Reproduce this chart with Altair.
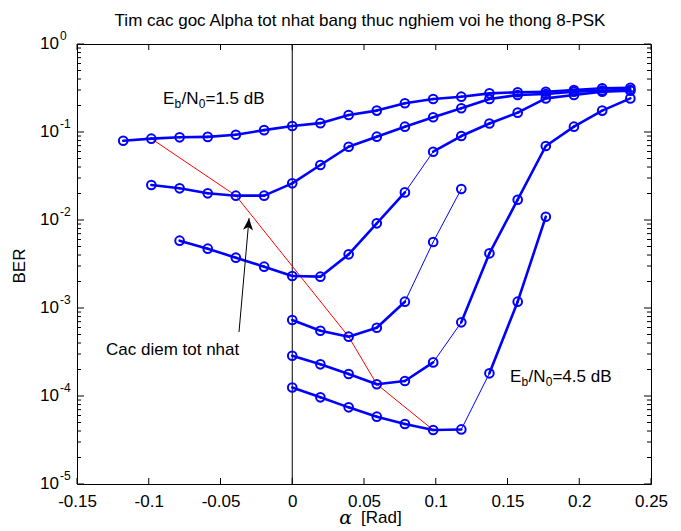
import altair as alt
import pandas as pd

FONT = "Liberation Sans, Arial, sans-serif"
BLUE = "#0000ff"

# alpha grid (k * pi/160)
alpha = [-0.1178, -0.0982, -0.0785, -0.0589, -0.0393, -0.0196, 0.0, 0.0196, 0.0393,
         0.0589, 0.0785, 0.0982, 0.1178, 0.1374, 0.1571, 0.1767, 0.1963, 0.2160, 0.2356]

# curves: BER values, start index into alpha, segment widths (T thick / t thin)
ber_1 = [0.0796, 0.084, 0.087, 0.088, 0.093, 0.105, 0.117, 0.126, 0.156, 0.175,
         0.212, 0.237, 0.252, 0.275, 0.283, 0.287, 0.300, 0.314, 0.318]
start_1 = 0
seg_1 = "TTTTTTTTTTTTTTTTTT"

ber_2 = [0.025, 0.0229, 0.0201, 0.0189, 0.0189, 0.0261, 0.0422, 0.068, 0.0885,
         0.115, 0.147, 0.186, 0.237, 0.263, 0.270, 0.287, 0.295, 0.300]
start_2 = 1
seg_2 = "TTTTTTTTTTTTTTTTT"

ber_3 = [0.00582, 0.00472, 0.00373, 0.00295, 0.00231, 0.00227, 0.00407, 0.00917,
         0.0206, 0.0597, 0.090, 0.125, 0.166, 0.241, 0.263, 0.287, 0.295]
start_3 = 2
seg_3 = "TTTTTTTTtTTTTTTT"

ber_4 = [7.3e-4, 5.52e-4, 4.72e-4, 5.97e-4, 1.18e-3, 5.62e-3, 0.0225]
start_4 = 6
seg_4 = "TTTTtt"

ber_5 = [2.87e-4, 2.29e-4, 1.78e-4, 1.36e-4, 1.48e-4, 2.41e-4, 6.87e-4, 4.18e-3,
         0.0170, 0.0693, 0.115, 0.175, 0.241]
start_5 = 6
seg_5 = "TTTTTtTTTTTT"

ber_6 = [1.25e-4, 9.66e-5, 7.43e-5, 5.82e-5, 4.81e-5, 4.11e-5, 4.17e-5, 1.81e-4,
         1.18e-3, 0.0109]
start_6 = 6
seg_6 = "TTTTTTtTT"

# red line through best points
best_x = [-0.0982, -0.0393, 0.0393, 0.0589, 0.0982]
best_y = [0.084, 0.0189, 4.72e-4, 1.36e-4, 4.11e-5]

# arrow annotation
arrow_x = [-0.0371, -0.0301]
arrow_y = [5.33e-4, 0.0105]
note_x = [-0.1298]
note_y = [3.33e-4]
note_text = ["Cac diem tot nhat"]

# Eb/N0 labels
eb_x = [-0.0901, 0.1517]
eb_y = [0.24, 1.66e-4]
eb_tail = ["=1.5 dB", "=4.5 dB"]

x_ticks = [-0.15, -0.1, -0.05, 0, 0.05, 0.1, 0.15, 0.2, 0.25]
y_exps = [0, -1, -2, -3, -4, -5]

title_text = "Tim cac goc Alpha tot nhat bang thuc nghiem voi he thong 8-PSK"

W, H = 574, 440
THICK, THIN = 2.6, 1.0

# ---------- build tables ----------
curves = [(ber_1, start_1, seg_1), (ber_2, start_2, seg_2), (ber_3, start_3, seg_3),
          (ber_4, start_4, seg_4), (ber_5, start_5, seg_5), (ber_6, start_6, seg_6)]
seg_rows, pt_rows = [], []
for ci, (ber, st, segs) in enumerate(curves):
    for j, v in enumerate(ber):
        pt_rows.append({"c": ci, "x": alpha[st + j], "y": v})
    for j in range(len(ber) - 1):
        w = THICK if segs[j] == "T" else THIN
        for m in (j, j + 1):
            seg_rows.append({"seg": f"{ci}-{j}", "x": alpha[st + m], "y": ber[m], "w": w})
seg_df = pd.DataFrame(seg_rows)
pt_df = pd.DataFrame(pt_rows)
best_df = pd.DataFrame({"x": best_x, "y": best_y})
arrow_df = pd.DataFrame({"x": arrow_x, "y": arrow_y})
head_df = pd.DataFrame({"x": arrow_x[-1:], "y": arrow_y[-1:]})
note_df = pd.DataFrame({"x": note_x, "y": note_y, "t": note_text})
eb_df = pd.DataFrame({"x": eb_x, "y": eb_y, "t": eb_tail})
xt_df = pd.DataFrame({"x": x_ticks})
ymaj_df = pd.DataFrame({"y": [10.0 ** e for e in y_exps], "e": [str(e) for e in y_exps]})
ymin_df = pd.DataFrame({"y": [m * 10.0 ** e for e in y_exps[1:] for m in range(2, 10)]})
zero_df = pd.DataFrame({"x": [0.0]})
title_df = pd.DataFrame({"t": [title_text]})
xl_df = pd.DataFrame({"t": ["[Rad]"]})
yl_df = pd.DataFrame({"t": ["BER"]})

xscale = alt.Scale(domain=[-0.15, 0.25], nice=False, zero=False)
yscale = alt.Scale(type="log", domain=[1e-5, 1], nice=False)
xaxis = alt.Axis(values=x_ticks, labelExpr="'' + datum.value", ticks=False, domain=False,
                 grid=False, labelFont=FONT, labelFontSize=17, labelColor="black",
                 labelPadding=9, title=None, labelFlush=False)
X = alt.X("x:Q", scale=xscale, axis=xaxis)
Y = alt.Y("y:Q", scale=yscale, axis=None)

zero_rule = alt.Chart(zero_df).mark_rule(color="black", strokeWidth=1).encode(
    x=X, y=alt.value(0), y2=alt.value(H))
red = alt.Chart(best_df).mark_line(color="#ff0000", strokeWidth=1).encode(x=X, y=Y)
lines = alt.Chart(seg_df).mark_line(color=BLUE, strokeCap="round", strokeJoin="round").encode(
    x=X, y=Y, detail="seg:N", strokeWidth=alt.StrokeWidth("w:Q", scale=None))
points = alt.Chart(pt_df).mark_point(shape="circle", filled=False, size=75, strokeWidth=2,
                                     color=BLUE, opacity=1).encode(x=X, y=Y)

xt_bot = alt.Chart(xt_df).mark_rule(color="black").encode(x=X, y=alt.value(H), y2=alt.value(H - 6))
xt_top = alt.Chart(xt_df).mark_rule(color="black").encode(x=X, y=alt.value(0), y2=alt.value(6))
ymaj_l = alt.Chart(ymaj_df).mark_rule(color="black").encode(y=Y, x=alt.value(0), x2=alt.value(7))
ymaj_r = alt.Chart(ymaj_df).mark_rule(color="black").encode(y=Y, x=alt.value(W), x2=alt.value(W - 7))
ymin_l = alt.Chart(ymin_df).mark_rule(color="black").encode(y=Y, x=alt.value(0), x2=alt.value(4))
ymin_r = alt.Chart(ymin_df).mark_rule(color="black").encode(y=Y, x=alt.value(W), x2=alt.value(W - 4))

ylab_10 = alt.Chart(ymaj_df).mark_text(text="10", align="right", baseline="middle", font=FONT,
                                       fontSize=17, color="black").encode(y=Y, x=alt.value(-18))
ylab_e = alt.Chart(ymaj_df).mark_text(align="left", baseline="middle", font=FONT, fontSize=12,
                                      dy=-8, color="black").encode(y=Y, x=alt.value(-17), text="e:N")

arrow_line = alt.Chart(arrow_df).mark_line(color="black", strokeWidth=1).encode(x=X, y=Y)
arrow_head = alt.Chart(head_df).mark_point(shape="M0,0 L1,2.4 L0,1.8 L-1,2.4 Z", filled=True,
                                           size=100, color="black", opacity=1, angle=5).encode(x=X, y=Y)
note = alt.Chart(note_df).mark_text(align="left", baseline="middle", font=FONT, fontSize=17,
                                    color="black").encode(x=X, y=Y, text="t:N")

def eb_part(txt, dx, dy, fs):
    return alt.Chart(eb_df).mark_text(text=txt, align="left", baseline="middle", font=FONT,
                                      fontSize=fs, dx=dx, dy=dy, color="black").encode(x=X, y=Y)

eb_E = eb_part("E", 0, 0, 17)
eb_b = eb_part("b", 11.5, 5, 12)
eb_N = eb_part("/N", 18.5, 0, 17)
eb_0 = eb_part("0", 35.8, 5, 12)
eb_tail_l = alt.Chart(eb_df).mark_text(align="left", baseline="middle", font=FONT, fontSize=17,
                                       dx=42.5, color="black").encode(x=X, y=Y, text="t:N")

title = alt.Chart(title_df).mark_text(align="center", baseline="alphabetic", font=FONT,
                                      fontSize=17, color="black").encode(
    x=alt.value(283), y=alt.value(-18), text="t:N")
xlabel_a = alt.Chart(xl_df).mark_text(text="\u03b1", align="right", baseline="middle",
                                      font="DejaVu Serif, serif", fontStyle="italic", fontSize=19,
                                      color="black").encode(x=alt.value(275), y=alt.value(H + 34))
xlabel = alt.Chart(xl_df).mark_text(align="left", baseline="middle", font=FONT, fontSize=17,
                                    color="black").encode(x=alt.value(284), y=alt.value(H + 34), text="t:N")
ylabel = alt.Chart(yl_df).mark_text(align="center", baseline="middle", font=FONT, fontSize=17,
                                    angle=270, color="black").encode(x=alt.value(-57), y=alt.value(222), text="t:N")

chart = alt.layer(
    zero_rule, red, lines, points, xt_bot, xt_top, ymaj_l, ymaj_r, ymin_l, ymin_r,
    ylab_10, ylab_e, arrow_line, arrow_head, note, eb_E, eb_b, eb_N, eb_0, eb_tail_l,
    title, xlabel_a, xlabel, ylabel
).properties(
    width=W, height=H,
    autosize=alt.AutoSizeParams(type="none"),
    padding={"left": 69, "top": 36, "right": 22, "bottom": 46},
    background="white",
).configure_view(stroke="black", strokeWidth=1)

chart.save("out.html", embed_options={"renderer": "svg", "actions": False})
